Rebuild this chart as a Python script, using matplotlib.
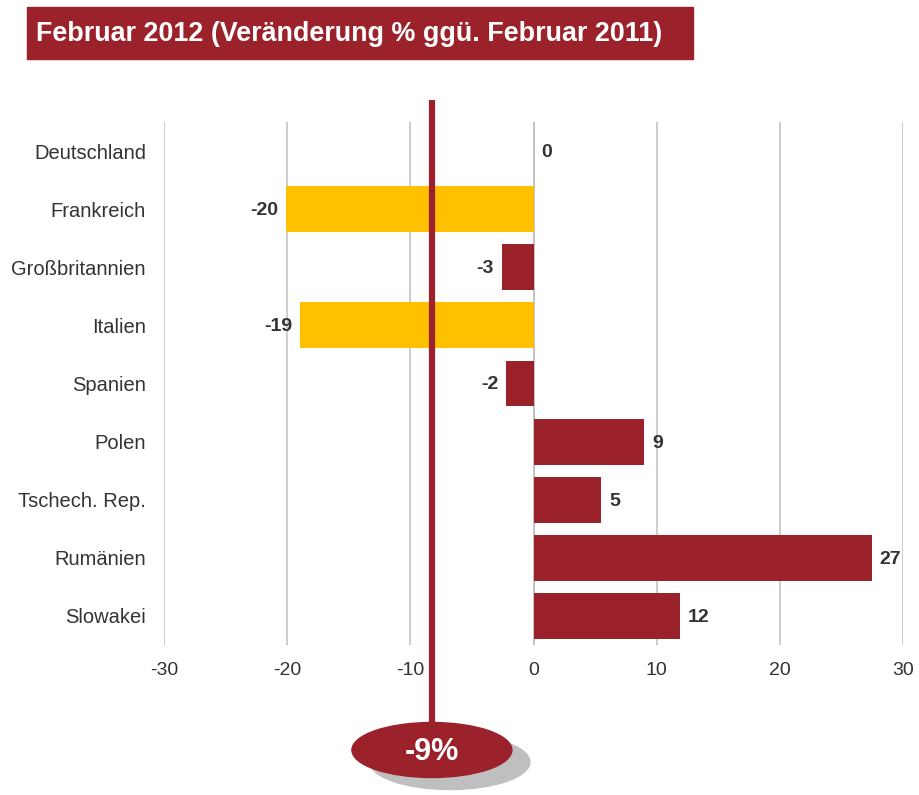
import numpy as np
import matplotlib.pyplot as plt
from matplotlib.patches import Ellipse, Rectangle
from matplotlib.transforms import blended_transform_factory

plt.rcParams['font.family'] = ['Liberation Sans', 'DejaVu Sans']
plt.rcParams['axes.unicode_minus'] = False

countries = ['Deutschland', 'Frankreich', 'Großbritannien', 'Italien', 'Spanien',
             'Polen', 'Tschech. Rep.', 'Rumänien', 'Slowakei']
values = [0.0, -20.1, -2.6, -19.0, -2.2, 9.0, 5.5, 27.5, 11.9]
labels = ['0', '-20', '-3', '-19', '-2', '9', '5', '27', '12']
avg_value = -8.25
avg_label = '-9%'
title = 'Februar 2012 (Veränderung % ggü. Februar 2011)'

red = '#9B212B'
yellow = '#FFC000'
colors = [yellow if v < -10 else red for v in values]

fig = plt.figure(figsize=(9.19, 7.95), dpi=100)
ax = fig.add_axes([0.1785, 0.1887, 0.8041, 0.6578])

y = np.arange(len(countries))
ax.barh(y, values, height=0.79, color=colors, zorder=2)
ax.set_ylim(len(countries) - 0.5, -0.5)
ax.set_xlim(-30, 30)
ax.set_xticks([-30, -20, -10, 0, 10, 20, 30])
ax.set_yticks(y)
ax.set_yticklabels(countries)
ax.tick_params(axis='y', length=0, pad=13, labelsize=14.5, labelcolor='#333333')
ax.tick_params(axis='x', length=0, pad=12, labelsize=14, labelcolor='#333333')
for s in ax.spines.values():
    s.set_visible(False)
ax.grid(axis='x', color='#C8C8C8', lw=1.3, zorder=0)
ax.axvline(0, color='#A0A0A0', lw=1.3, zorder=1)

for yi, v, lab in zip(y, values, labels):
    off = 5.5 if v >= 0 else -5.5
    ax.annotate(lab, (v, yi), xytext=(off, -1), textcoords='offset points',
                ha='left' if v >= 0 else 'right', va='center',
                fontsize=14, fontweight='bold', color='#333333', zorder=3)

# average line and bubble
tr = blended_transform_factory(ax.transData, fig.transFigure)
ax.plot([avg_value, avg_value], [1 - 100 / 795, 1 - 740 / 795], transform=tr,
        color=red, lw=4.5, clip_on=False, zorder=4, solid_capstyle='butt')
px = 60 / 739  # data units per pixel
ax.add_patch(Ellipse((avg_value + 18 * px, 1 - 762 / 795), 160 * px, 55 / 795,
                     transform=tr, color='#BFBFBF', clip_on=False, zorder=4))
ax.add_patch(Ellipse((avg_value, 1 - 750 / 795), 160 * px, 55 / 795,
                     transform=tr, color=red, clip_on=False, zorder=5))
ax.text(avg_value, 1 - 752 / 795, avg_label, transform=tr, ha='center', va='center',
        fontsize=22, fontweight='bold', color='white', zorder=6)

# title box
fig.patches.append(Rectangle((27 / 919, 1 - 59 / 795), 666 / 919, 52 / 795,
                             transform=fig.transFigure, color=red, zorder=0))
fig.text(36 / 919, 1 - 34 / 795, title, ha='left', va='center',
         fontsize=19.4, fontweight='bold', color='white')

fig.savefig('out.png', dpi=100)
